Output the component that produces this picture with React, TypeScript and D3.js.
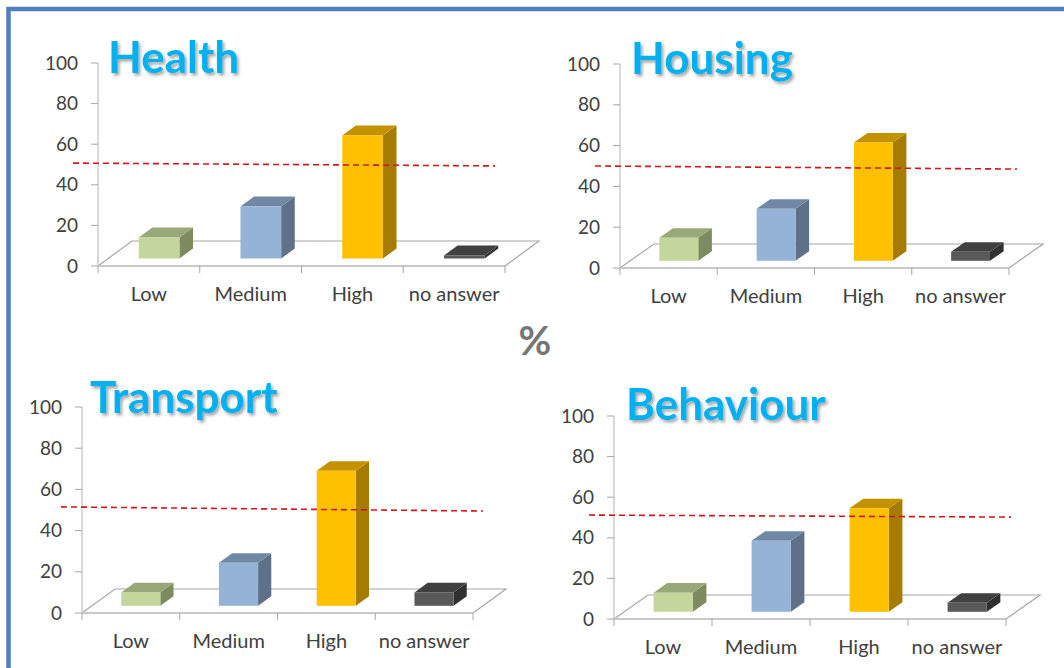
import React from "react";
import * as d3 from "d3";

// ---------- data ----------
const categories = ["Low", "Medium", "High", "no answer"];
const panelTitles = ["Health", "Housing", "Transport", "Behaviour"];
const healthValues = [10.3, 25.6, 60.6, 1.5];
const housingValues = [11.3, 25.5, 58, 4.4];
const transportValues = [6.5, 20.9, 65.5, 6.5];
const behaviourValues = [9.4, 35, 51, 4.4];
const yTicks = [0, 20, 40, 60, 80, 100];
// reference (≈50%) dashed line, value at its left and right ends
const refStartValues = [50.7, 50, 51.5, 51.2];
const refEndValues = [49.3, 48.5, 49.5, 50.2];
const unitLabel = "%";

const seriesValues = [healthValues, housingValues, transportValues, behaviourValues];

// ---------- layout / style ----------
const layouts = [
  { axisX: 98, xEnd: 505, y0: 266, y100: 63, ddx: 34, ddy: 25, titleX: 108, titleY: 73, refX0: 73, refX1: 495 },
  { axisX: 620, xEnd: 1009, y0: 268, y100: 64, ddx: 34, ddy: 24, titleX: 631, titleY: 74, refX0: 595, refX1: 1017 },
  { axisX: 82, xEnd: 473, y0: 613, y100: 407, ddx: 33, ddy: 24, titleX: 90, titleY: 413, refX0: 61, refX1: 483 },
  { axisX: 614, xEnd: 1006, y0: 619, y100: 416, ddx: 34, ddy: 24, titleX: 626, titleY: 420, refX0: 589, refX1: 1011 },
];

const barColors = [
  { front: "#C3D69B", top: "#98A878", side: "#7E8B60" },
  { front: "#95B3D7", top: "#7088A6", side: "#5F7189" },
  { front: "#FFC000", top: "#C49200", side: "#A57C00" },
  { front: "#595959", top: "#404040", side: "#303030" },
];

const FONT = "Lato, 'Open Sans', sans-serif";
const F0 = 0.3; // bar front depth fraction
const F1 = 0.7; // bar back depth fraction

function Panel({ idx }: { idx: number }) {
  const L = layouts[idx];
  const values = seriesValues[idx];
  const y = d3.scaleLinear().domain([0, 100]).range([L.y0, L.y100]);
  const x = d3.scaleBand<string>().domain(categories).range([L.axisX, L.xEnd]).padding(0);
  const bw = x.bandwidth();
  const barW = bw * 0.4;
  const fdx = F0 * L.ddx;
  const fdy = F0 * L.ddy;
  const bdx = (F1 - F0) * L.ddx;
  const bdy = (F1 - F0) * L.ddy;
  const line = d3.line<[number, number]>();

  const floorBack = line([
    [L.axisX, L.y0],
    [L.axisX + L.ddx, L.y0 - L.ddy],
    [L.xEnd + L.ddx, L.y0 - L.ddy],
    [L.xEnd, L.y0],
  ]);

  return (
    <g>
      {/* floor */}
      <path d={floorBack || ""} fill="none" stroke="#A6A6A6" strokeWidth={1.2} />
      <line x1={L.axisX} x2={L.xEnd} y1={L.y0} y2={L.y0} stroke="#C8C8C8" strokeWidth={2} />
      {/* y axis */}
      <line x1={L.axisX} x2={L.axisX} y1={y(0)} y2={y(100)} stroke="#BFBFBF" strokeWidth={1.2} />
      {yTicks.map((t) => (
        <g key={t}>
          <line x1={L.axisX - 7} x2={L.axisX} y1={y(t)} y2={y(t)} stroke="#A6A6A6" strokeWidth={1} />
          <text
            x={L.axisX - 20}
            y={y(t)}
            dy="0.35em"
            textAnchor="end"
            fontFamily={FONT}
            fontSize={19}
            fill="#404040"
          >
            {t}
          </text>
        </g>
      ))}
      {/* x ticks */}
      {[...categories.map((c) => x(c) as number), L.xEnd].map((tx, i) => (
        <line key={i} x1={tx} x2={tx} y1={L.y0} y2={L.y0 + 7} stroke="#A6A6A6" strokeWidth={1} />
      ))}
      {categories.map((c) => (
        <text
          key={c}
          x={(x(c) as number) + bw / 2}
          y={L.y0 + 35}
          textAnchor="middle"
          fontFamily={FONT}
          fontSize={20}
          fill="#404040"
        >
          {c}
        </text>
      ))}
      {/* bars */}
      {categories.map((c, i) => {
        const v = values[i];
        const col = barColors[i];
        const x0 = (x(c) as number) + (bw - barW) / 2 + fdx;
        const x1 = x0 + barW;
        const bot = y(0) - fdy;
        const top = y(v) - fdy;
        const topFace = line([
          [x0, top],
          [x1, top],
          [x1 + bdx, top - bdy],
          [x0 + bdx, top - bdy],
        ]);
        const sideFace = line([
          [x1, top],
          [x1 + bdx, top - bdy],
          [x1 + bdx, bot - bdy],
          [x1, bot],
        ]);
        return (
          <g key={c}>
            <path d={(sideFace || "") + "Z"} fill={col.side} />
            <path d={(topFace || "") + "Z"} fill={col.top} />
            <rect x={x0} y={top} width={barW} height={bot - top} fill={col.front} />
          </g>
        );
      })}
      {/* reference dashed line */}
      <line
        x1={L.refX0}
        x2={L.refX1}
        y1={y(refStartValues[idx])}
        y2={y(refEndValues[idx])}
        stroke="#D01818"
        strokeWidth={1.6}
        strokeDasharray="6,4"
      />
      {/* title */}
      <text
        x={L.titleX}
        y={L.titleY}
        fontFamily={FONT}
        fontWeight="bold"
        fontSize={44}
        fill="#00B0F0"
        filter="url(#tshadow)"
      >
        {panelTitles[idx]}
      </text>
    </g>
  );
}

export default function App() {
  return (
    <svg
      width={1064}
      height={668}
      style={{ position: "absolute", left: 0, top: 0, background: "#fff" }}
    >
      <defs>
        <filter id="tshadow" x="-10%" y="-20%" width="130%" height="150%">
          <feDropShadow dx={2} dy={2.5} stdDeviation={1.5} floodColor="#000" floodOpacity={0.35} />
        </filter>
      </defs>
      <rect x={0} y={0} width={1064} height={668} fill="#fff" />
      <rect x={8.5} y={9} width={1100} height={700} fill="none" stroke="#4F81BD" strokeWidth={4.5} />
      {panelTitles.map((t, i) => (
        <Panel key={t} idx={i} />
      ))}
      <text x={535} y={355} textAnchor="middle" fontFamily={FONT} fontWeight="bold" fontSize={40} fill="#767676">
        {unitLabel}
      </text>
    </svg>
  );
}
